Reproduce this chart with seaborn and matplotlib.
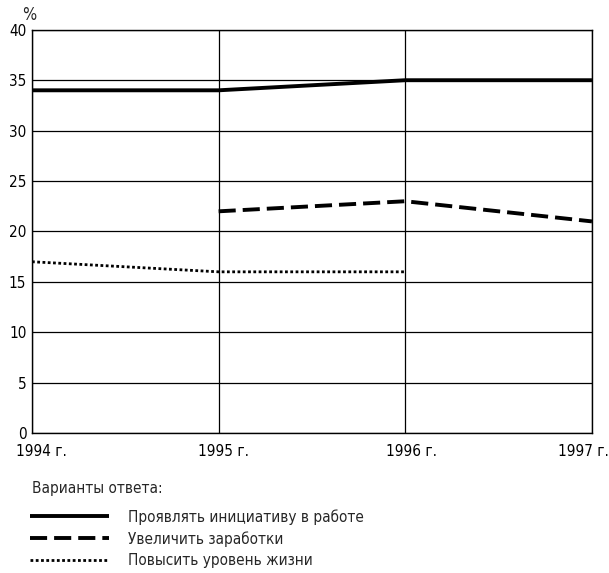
import matplotlib
matplotlib.use("Agg")
import matplotlib.pyplot as plt
import matplotlib.transforms as mtransforms
from matplotlib import font_manager
import seaborn as sns
import pandas as pd
from matplotlib.lines import Line2D

years = [1994, 1995, 1996, 1997]
year_labels = ["1994 г.", "1995 г.", "1996 г.", "1997 г."]
s_initiative = [34, 34, 35, 35]
s_earnings_years = [1995, 1996, 1997]
s_earnings = [22, 23, 21]
s_living_years = [1994, 1995, 1996]
s_living = [17, 16, 16]
names = ["Проявлять инициативу в работе", "Увеличить заработки", "Повысить уровень жизни"]
legend_title = "Варианты ответа:"

sns.set_theme(style="white")
plt.rcParams['font.family'] = ['DejaVu Sans']
cond = [f for f in font_manager.fontManager.ttflist
        if f.name == "DejaVu Sans" and "ondensed" in f.fname and f.style == "normal"]
if cond:
    plt.rcParams['font.stretch'] = 'condensed'
FS = 11 if cond else 10

df = pd.concat([
    pd.DataFrame({"year": years, "value": s_initiative, "series": names[0]}),
    pd.DataFrame({"year": s_earnings_years, "value": s_earnings, "series": names[1]}),
    pd.DataFrame({"year": s_living_years, "value": s_living, "series": names[2]}),
])

fig = plt.figure(figsize=(6.09, 5.73), dpi=100)
ax = fig.add_axes([0.0525, 0.244, 0.9195, 0.704])

dash_map = {names[0]: None, names[1]: (4.4, 1.8), names[2]: (1, 0.9)}
widths = {names[0]: 2.8, names[1]: 2.8, names[2]: 2.0}
for n in names:
    sub = df[df.series == n]
    sns.lineplot(data=sub, x="year", y="value", ax=ax, color="black",
                 linewidth=widths[n], legend=False, zorder=3)
    line = ax.lines[-1]
    if dash_map[n]:
        line.set_dashes(dash_map[n])
    line.set_solid_capstyle("butt")
    line.set_dash_capstyle("butt")

ax.set_xlim(1994, 1997)
ax.set_ylim(0, 40)
ax.set_yticks(range(0, 41, 5))
ax.set_xticks(years)
ax.set_xticklabels(year_labels)
ax.grid(True, color="black", linewidth=0.9)
ax.set_axisbelow(True)
for sp in ax.spines.values():
    sp.set_color("black")
    sp.set_linewidth(1.0)
ax.set_xlabel("")
ax.set_ylabel("")
ax.tick_params(axis="both", length=0, labelsize=FS, colors="black")
ax.tick_params(axis="x", pad=8)
ax.tick_params(axis="y", pad=4)
x_offsets_px = [9, 5, 6, -9]
for lab, dx in zip(ax.get_xticklabels(), x_offsets_px):
    lab.set_transform(lab.get_transform() + mtransforms.ScaledTranslation(dx / 100, 0, fig.dpi_scale_trans))
ax.text(-0.017, 1.015, "%", transform=ax.transAxes, fontsize=FS + 1, ha="left", va="bottom")

fig.text(32 / 609, 1 - 488 / 573, legend_title, fontsize=FS, ha="left", va="center")

handles = [
    Line2D([], [], color="black", linewidth=2.8, solid_capstyle="butt"),
    Line2D([], [], color="black", linewidth=2.8, dashes=(4.4, 1.8), dash_capstyle="butt"),
    Line2D([], [], color="black", linewidth=2.0, dashes=(1, 0.9), dash_capstyle="butt"),
]
leg = fig.legend(handles, names, loc="upper left",
                 bbox_to_anchor=(30 / 609, 1 - 509 / 573), frameon=False, fontsize=FS,
                 handlelength=5.2, handletextpad=1.2, labelspacing=0.42,
                 borderaxespad=0, borderpad=0)

fig.savefig("out.png", dpi=100, facecolor="white")
